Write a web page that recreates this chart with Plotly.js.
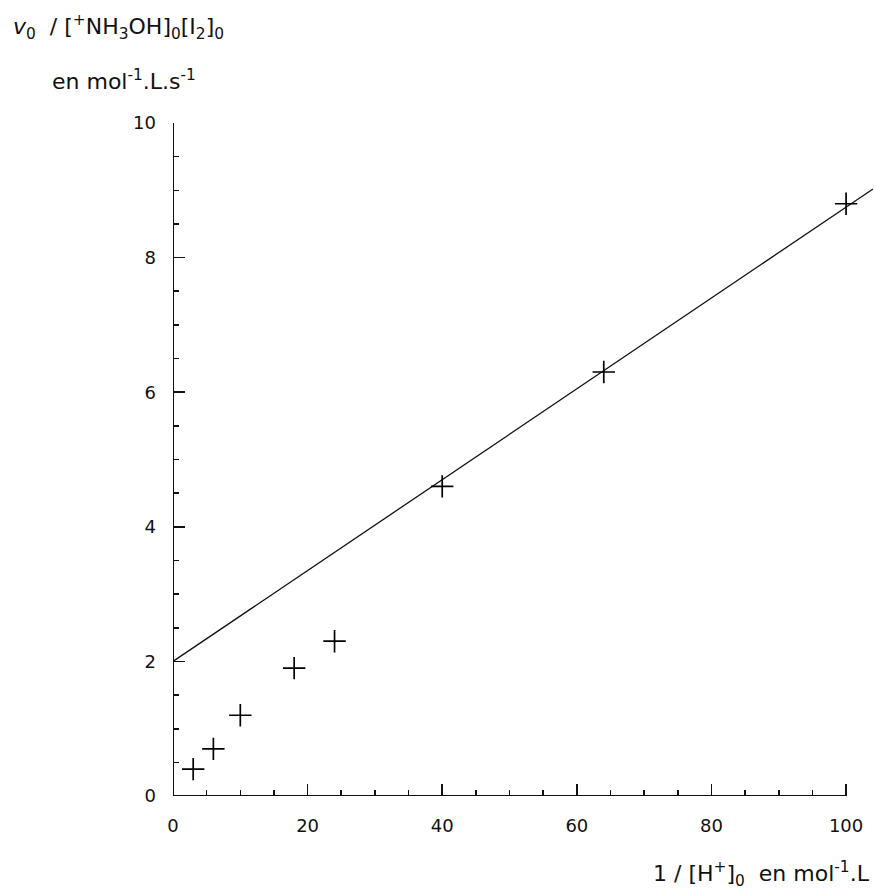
<!DOCTYPE html>
<html>
<head>
<meta charset="utf-8">
<script src="https://cdn.plot.ly/plotly-3.0.1.min.js"></script>
<style>html,body{margin:0;padding:0;background:#fff;}#chart{width:874px;height:891px;}</style>
</head>
<body>
<div id="chart"></div>
<script>
// Experimental points
const invH = [3, 6, 10, 18, 24, 40, 64, 100];
const rate = [0.4, 0.7, 1.2, 1.9, 2.3, 4.6, 6.3, 8.8];
// Fitted straight line (through the last points)
const fitX = [0, 104];
const fitY = [2.0, 9.02];
// Axis ticks
const xTicks = [0, 20, 40, 60, 80, 100];
const yTicks = [0, 2, 4, 6, 8, 10];

const W = 874, H = 891;
const M = {l: 173, r: 1, t: 123, b: 95};
const pw = W - M.l - M.r, ph = H - M.t - M.b;
const px = x => (x - M.l) / pw;
const py = y => (H - M.b - y) / ph;

const tickFont = {family: 'DejaVu Sans, Verdana, sans-serif', size: 18, color: '#111'};
const titleFont = {family: 'DejaVu Sans, Verdana, sans-serif', size: 22, color: '#111'};

const traces = [
  {x: fitX, y: fitY, mode: 'lines', line: {color: '#111', width: 1.3}, hoverinfo: 'skip', showlegend: false},
  {x: invH, y: rate, mode: 'markers', cliponaxis: false,
   marker: {symbol: 'cross-thin', size: 16, color: '#000', line: {color: '#000', width: 1.7}}, showlegend: false}
];

const layout = {
  width: W, height: H,
  margin: M,
  paper_bgcolor: '#fff', plot_bgcolor: '#fff',
  font: tickFont,
  showlegend: false,
  xaxis: {
    range: [0, 104], showline: false, zeroline: false, showgrid: false,
    tickmode: 'array', tickvals: xTicks, ticktext: xTicks.map(String),
    ticks: 'inside', ticklen: 12, tickwidth: 1.6, tickcolor: '#111',
    minor: {dtick: 5, tick0: 0, ticks: 'inside', ticklen: 6, tickwidth: 1.6, tickcolor: '#111', showgrid: false},
    ticklabelstandoff: 17, tickfont: tickFont, automargin: false, fixedrange: true
  },
  yaxis: {
    range: [0, 10], showline: false, zeroline: false, showgrid: false,
    tickmode: 'array', tickvals: yTicks, ticktext: yTicks.map(String),
    ticks: 'inside', ticklen: 12, tickwidth: 1.6, tickcolor: '#111',
    minor: {dtick: 0.5, tick0: 0, ticks: 'inside', ticklen: 6, tickwidth: 1.6, tickcolor: '#111', showgrid: false},
    ticklabelstandoff: 16, tickfont: tickFont, automargin: false, fixedrange: true
  },
  shapes: [
    {type: 'line', xref: 'x', yref: 'y', x0: 0, x1: 100, y0: 0, y1: 0, line: {color: '#111', width: 2}},
    {type: 'line', xref: 'x', yref: 'y', x0: 0, x1: 0, y0: 0, y1: 10, line: {color: '#111', width: 2}}
  ],
  annotations: [
    {xref: 'paper', yref: 'paper', x: px(11), y: py(27), xanchor: 'left', yanchor: 'middle', showarrow: false,
     text: '<i>v</i><sub>0</sub>&nbsp;&nbsp;/ [<sup>+</sup>NH<sub>3</sub>OH]<sub>0</sub>[I<sub>2</sub>]<sub>0</sub>', font: titleFont},
    {xref: 'paper', yref: 'paper', x: px(50), y: py(80), xanchor: 'left', yanchor: 'middle', showarrow: false,
     text: 'en mol<sup>-1</sup>.L.s<sup>-1</sup>', font: titleFont},
    {xref: 'paper', yref: 'paper', x: px(872), y: py(874), xanchor: 'right', yanchor: 'middle', showarrow: false,
     text: '1 / [H<sup>+</sup>]<sub>0</sub>&nbsp;&nbsp;en mol<sup>-1</sup>.L', font: titleFont}
  ]
};

Plotly.newPlot('chart', traces, layout, {displayModeBar: false, staticPlot: true});
</script>
</body>
</html>
